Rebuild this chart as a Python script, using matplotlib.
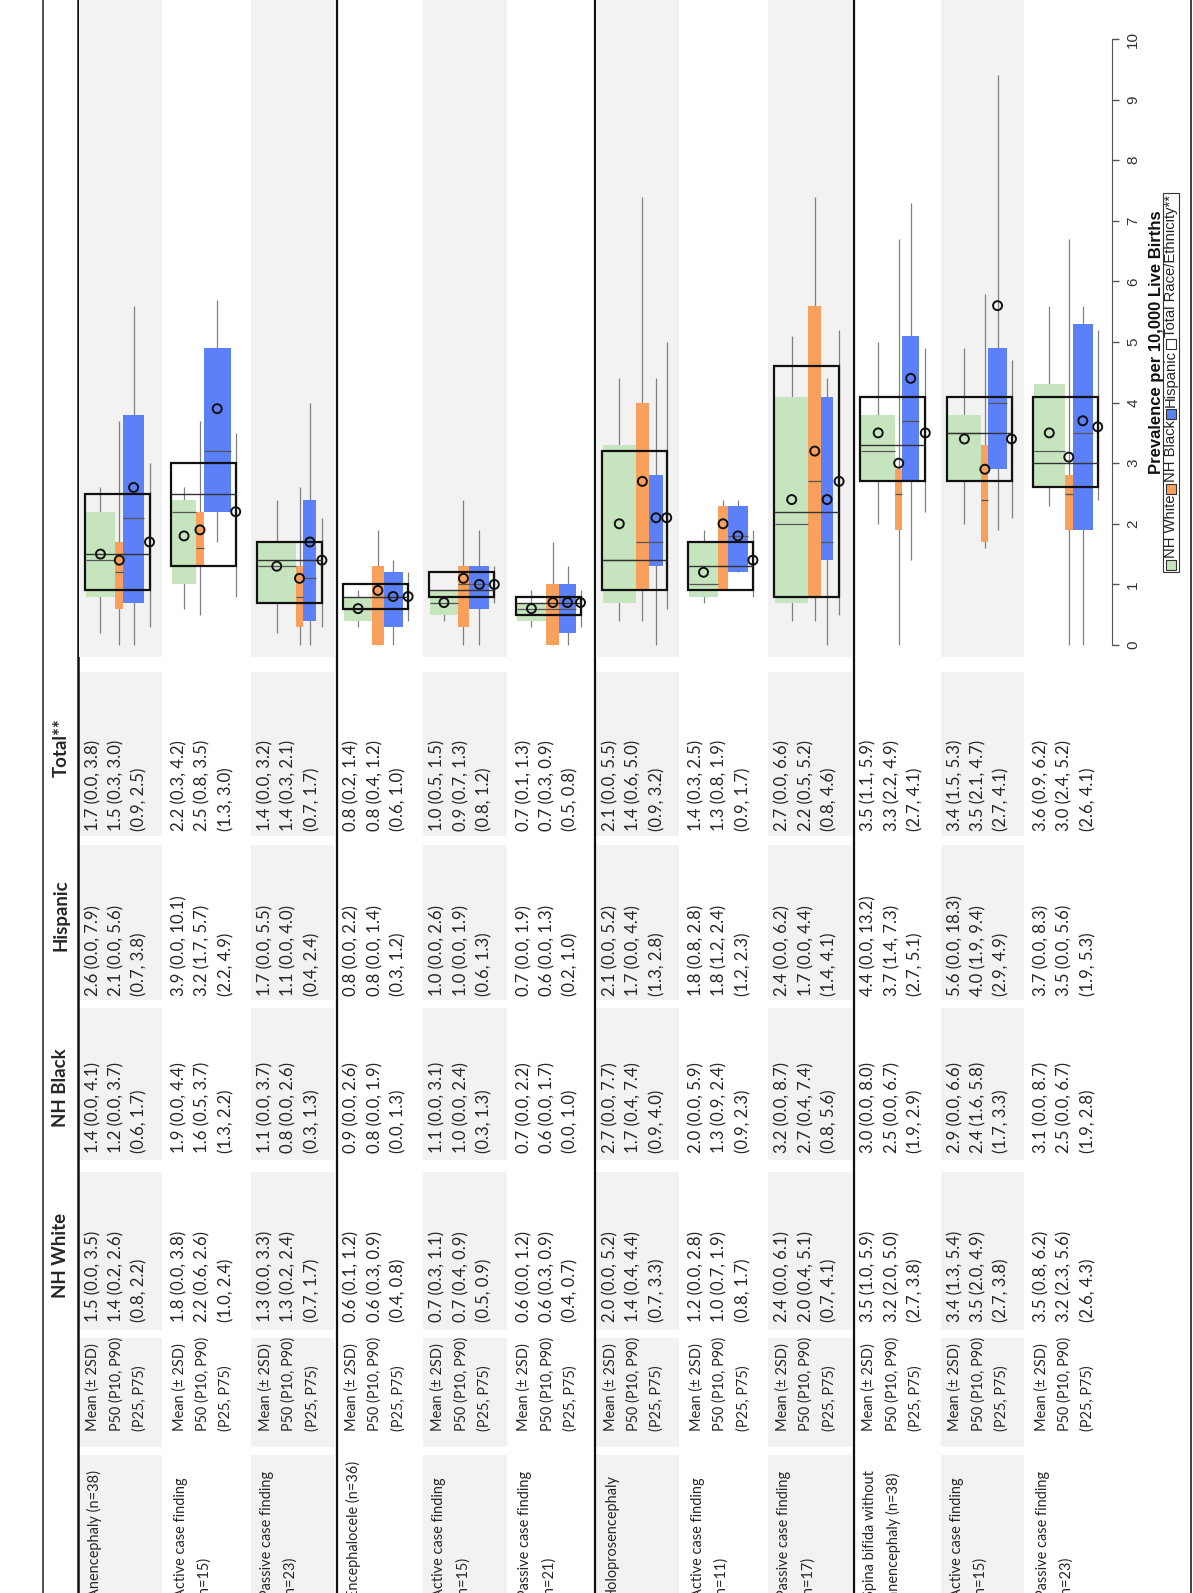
import numpy as np
import matplotlib
matplotlib.use('Agg')
import matplotlib.pyplot as plt
from matplotlib.patches import Rectangle

# Row labels (two-line labels split on the newline)
ROW_LABELS = [
    'Anencephaly (n=38)',
    'Active case finding\n(n=15)',
    'Passive case finding\n(n=23)',
    'Encephalocele (n=36)',
    'Active case finding\n(n=15)',
    'Passive case finding\n(n=21)',
    'Holoprosencephaly',
    'Active case finding\n(n=11)',
    'Passive case finding\n(n=17)',
    'Spina bifida without\nanencephaly (n=38)',
    'Active case finding\n(n=15)',
    'Passive case finding\n(n=23)',
]
STAT_NAMES = ['Mean (\u00b1 2SD)', 'P50 (P10, P90)', '(P25, P75)']
GROUP_NAMES = ['NH White', 'NH Black', 'Hispanic', 'Total**']

# mean, mean-2SD, mean+2SD, P50, P10, P90, P25, P75
NH_WHITE = [
    (1.5, 0.0, 3.5, 1.4, 0.2, 2.6, 0.8, 2.2),
    (1.8, 0.0, 3.8, 2.2, 0.6, 2.6, 1.0, 2.4),
    (1.3, 0.0, 3.3, 1.3, 0.2, 2.4, 0.7, 1.7),
    (0.6, 0.1, 1.2, 0.6, 0.3, 0.9, 0.4, 0.8),
    (0.7, 0.3, 1.1, 0.7, 0.4, 0.9, 0.5, 0.9),
    (0.6, 0.0, 1.2, 0.6, 0.3, 0.9, 0.4, 0.7),
    (2.0, 0.0, 5.2, 1.4, 0.4, 4.4, 0.7, 3.3),
    (1.2, 0.0, 2.8, 1.0, 0.7, 1.9, 0.8, 1.7),
    (2.4, 0.0, 6.1, 2.0, 0.4, 5.1, 0.7, 4.1),
    (3.5, 1.0, 5.9, 3.2, 2.0, 5.0, 2.7, 3.8),
    (3.4, 1.3, 5.4, 3.5, 2.0, 4.9, 2.7, 3.8),
    (3.5, 0.8, 6.2, 3.2, 2.3, 5.6, 2.6, 4.3),
]
NH_BLACK = [
    (1.4, 0.0, 4.1, 1.2, 0.0, 3.7, 0.6, 1.7),
    (1.9, 0.0, 4.4, 1.6, 0.5, 3.7, 1.3, 2.2),
    (1.1, 0.0, 3.7, 0.8, 0.0, 2.6, 0.3, 1.3),
    (0.9, 0.0, 2.6, 0.8, 0.0, 1.9, 0.0, 1.3),
    (1.1, 0.0, 3.1, 1.0, 0.0, 2.4, 0.3, 1.3),
    (0.7, 0.0, 2.2, 0.6, 0.0, 1.7, 0.0, 1.0),
    (2.7, 0.0, 7.7, 1.7, 0.4, 7.4, 0.9, 4.0),
    (2.0, 0.0, 5.9, 1.3, 0.9, 2.4, 0.9, 2.3),
    (3.2, 0.0, 8.7, 2.7, 0.4, 7.4, 0.8, 5.6),
    (3.0, 0.0, 8.0, 2.5, 0.0, 6.7, 1.9, 2.9),
    (2.9, 0.0, 6.6, 2.4, 1.6, 5.8, 1.7, 3.3),
    (3.1, 0.0, 8.7, 2.5, 0.0, 6.7, 1.9, 2.8),
]
HISPANIC = [
    (2.6, 0.0, 7.9, 2.1, 0.0, 5.6, 0.7, 3.8),
    (3.9, 0.0, 10.1, 3.2, 1.7, 5.7, 2.2, 4.9),
    (1.7, 0.0, 5.5, 1.1, 0.0, 4.0, 0.4, 2.4),
    (0.8, 0.0, 2.2, 0.8, 0.0, 1.4, 0.3, 1.2),
    (1.0, 0.0, 2.6, 1.0, 0.0, 1.9, 0.6, 1.3),
    (0.7, 0.0, 1.9, 0.6, 0.0, 1.3, 0.2, 1.0),
    (2.1, 0.0, 5.2, 1.7, 0.0, 4.4, 1.3, 2.8),
    (1.8, 0.8, 2.8, 1.8, 1.2, 2.4, 1.2, 2.3),
    (2.4, 0.0, 6.2, 1.7, 0.0, 4.4, 1.4, 4.1),
    (4.4, 0.0, 13.2, 3.7, 1.4, 7.3, 2.7, 5.1),
    (5.6, 0.0, 18.3, 4.0, 1.9, 9.4, 2.9, 4.9),
    (3.7, 0.0, 8.3, 3.5, 0.0, 5.6, 1.9, 5.3),
]
TOTAL = [
    (1.7, 0.0, 3.8, 1.5, 0.3, 3.0, 0.9, 2.5),
    (2.2, 0.3, 4.2, 2.5, 0.8, 3.5, 1.3, 3.0),
    (1.4, 0.0, 3.2, 1.4, 0.3, 2.1, 0.7, 1.7),
    (0.8, 0.2, 1.4, 0.8, 0.4, 1.2, 0.6, 1.0),
    (1.0, 0.5, 1.5, 0.9, 0.7, 1.3, 0.8, 1.2),
    (0.7, 0.1, 1.3, 0.7, 0.3, 0.9, 0.5, 0.8),
    (2.1, 0.0, 5.5, 1.4, 0.6, 5.0, 0.9, 3.2),
    (1.4, 0.3, 2.5, 1.3, 0.8, 1.9, 0.9, 1.7),
    (2.7, 0.0, 6.6, 2.2, 0.5, 5.2, 0.8, 4.6),
    (3.5, 1.1, 5.9, 3.3, 2.2, 4.9, 2.7, 4.1),
    (3.4, 1.5, 5.3, 3.5, 2.1, 4.7, 2.7, 4.1),
    (3.6, 0.9, 6.2, 3.0, 2.4, 5.2, 2.6, 4.1),
]

# share of total births per group, used as box widths
WHITE_SHARE = [.46, .38, .58, .43, .42, .46, .51, .45, .51, .52, .52, .48]
BLACK_SHARE = [.12, .11, .12, .18, .18, .20, .20, .15, .20, .11, .11, .12]
HISP_SHARE = [.32, .42, .20, .29, .31, .25, .22, .31, .18, .26, .28, .31]

COLORS = ['#c6e5be', '#f9a15c', '#5b80f7']
SHADE = '#f2f2f2'
TEXT_COLOR = '#262626'
TABLE_FONT = 'Lato'
AXIS_FONT = 'Liberation Sans'

# layout in pixels
W, H = 1193, 1593
X0 = 78.0
ROW_W = 86.2
N = len(ROW_LABELS)
PLOT_BOTTOM = 657.0
Y_ZERO = 645.0
UNIT = 60.6
BOX_OFF = 6.5 / ROW_W
TOT_W = 65.0 / ROW_W

fig = plt.figure(figsize=(W / 100, H / 100), dpi=100)
fig.patch.set_facecolor('white')

canvas = fig.add_axes([0, 0, 1, 1], zorder=0)
canvas.set_xlim(0, W)
canvas.set_ylim(H, 0)
canvas.axis('off')
fig.canvas.draw()
renderer = fig.canvas.get_renderer()


def text_width(s, size, weight='normal', family=TABLE_FONT):
    t = canvas.text(0, 0, s, fontsize=size, fontweight=weight, family=family)
    fig.canvas.draw()
    w = t.get_window_extent(renderer).width
    t.remove()
    return w


def fit_size(s, target_px, weight='normal'):
    return 10.0 * target_px / text_width(s, 10.0, weight)


text_width('warm up', 10.0)
STAT_FS = fit_size('P50 (P10, P90)', 95)
VALUE_FS = min(fit_size('1.4 (0.0, 4.1)', 102), STAT_FS * 1.15)
HEAD_FS = fit_size('NH Black', 79, 'bold')

# ---- table part ----
CELLS = [(672, 836), (845, 1000), (1008, 1160), (1172, 1330), (1338, 1447), (1455, H + 5)]
VALUE_START = [1322, 1153, 996, 831]
STAT_START = 1431
LABEL_START = 1477 + text_width('Active case finding', STAT_FS)
LINE_DX = 23.4


def rot_text(x, y, s, size, **kw):
    canvas.text(x, y, s, rotation=90, rotation_mode='anchor', ha='left', va='center',
                fontsize=size, family=TABLE_FONT, color=TEXT_COLOR, **kw)


for i in range(N):
    rx = X0 + i * ROW_W
    if i % 2 == 0:
        for top, bot in CELLS:
            canvas.add_patch(Rectangle((rx + 0.5, top), 83.5, bot - top,
                                       facecolor=SHADE, edgecolor='none', zorder=0))
    base = rx + 15
    for j, line in enumerate(ROW_LABELS[i].split('\n')):
        rot_text(base + 1.5 + j * LINE_DX, LABEL_START, line, STAT_FS)
    for j, s in enumerate(STAT_NAMES):
        rot_text(base + j * LINE_DX, STAT_START, s, STAT_FS)
    for g, rows in enumerate([NH_WHITE, NH_BLACK, HISPANIC, TOTAL]):
        m, slo, shi, p50, p10, p90, p25, p75 = rows[i]
        lines = ['{:.1f} ({:.1f}, {:.1f})'.format(m, slo, shi),
                 '{:.1f} ({:.1f}, {:.1f})'.format(p50, p10, p90),
                 '({:.1f}, {:.1f})'.format(p25, p75)]
        for j, s in enumerate(lines):
            rot_text(base + j * LINE_DX, VALUE_START[g], s, VALUE_FS)

# column headers
for name, yc in zip(GROUP_NAMES, [1255, 1088, 915, 748]):
    canvas.text(61, yc, name, rotation=90, ha='center', va='center',
                fontsize=HEAD_FS, fontweight='bold', family=TABLE_FONT, color=TEXT_COLOR)

# rules
canvas.axvline(43, color='#333333', lw=1.2, zorder=5)
canvas.axvline(X0 - 0.5, color='#111111', lw=1.8, zorder=5)
for k in (3, 6, 9):
    canvas.axvline(X0 + k * ROW_W, color='#111111', lw=1.6, zorder=5)
canvas.axvline(W - 2, color='#333333', lw=1.3, zorder=5)

# ---- box plot part ----
ax = fig.add_axes([X0 / W, 1 - PLOT_BOTTOM / H, N * ROW_W / W, PLOT_BOTTOM / H], zorder=1)
ax.set_facecolor('none')
ax.set_xlim(0, N)
ax.set_ylim(-(PLOT_BOTTOM - Y_ZERO) / UNIT, Y_ZERO / UNIT)

for i in range(N):
    if i % 2 == 0:
        ax.axvspan(i + 0.5 / ROW_W, i + 84 / ROW_W, color=SHADE, lw=0, zorder=0)
    left = i + BOX_OFF
    x = left + 1.0 / ROW_W
    for rows, share, color in zip([NH_WHITE, NH_BLACK, HISPANIC],
                                  [WHITE_SHARE, BLACK_SHARE, HISP_SHARE], COLORS):
        m, slo, shi, p50, p10, p90, p25, p75 = rows[i]
        w = share[i] * TOT_W
        cx = x + w / 2
        ax.vlines(cx, p10, p90, color='#808080', lw=0.9, zorder=1)
        ax.bar(x, p75 - p25, width=w, bottom=p25, align='edge', color=color, lw=0, zorder=2)
        ax.hlines(p50, x, x + w, color='#555555', lw=0.9, zorder=3)
        ax.scatter([cx], [m], s=42, facecolors='none', edgecolors='#111111', linewidths=1.4, zorder=6)
        x += w
    m, slo, shi, p50, p10, p90, p25, p75 = TOTAL[i]
    tx = left + TOT_W
    ax.vlines(tx, p10, p90, color='#808080', lw=0.9, zorder=1)
    ax.bar(left, p75 - p25, width=TOT_W, bottom=p25, align='edge', fill=False,
           edgecolor='#111111', lw=1.6, zorder=4)
    ax.hlines(p50, left, left + TOT_W, color='#333333', lw=1.0, zorder=4)
    ax.scatter([tx], [m], s=42, facecolors='none', edgecolors='#111111', linewidths=1.4, zorder=6)

for side in ['left', 'top', 'bottom']:
    ax.spines[side].set_visible(False)
ax.spines['right'].set_bounds(0, 10)
ax.spines['right'].set_color('#555555')
ax.set_xticks([])
ax.set_yticks(range(11))
ax.yaxis.tick_right()
ax.tick_params(axis='y', direction='out', length=5, width=1, colors='#555555',
               labelcolor='#333333', labelsize=11, labelrotation=90, pad=5)
for lab in ax.get_yticklabels():
    lab.set_family(AXIS_FONT)
    lab.set_verticalalignment('center')

ax.text((1157 - X0) / (N * ROW_W), 5, 'Prevalence per 10,000 Live Births',
        transform=ax.get_yaxis_transform(), rotation=90, ha='center', va='center',
        fontsize=12, fontweight='bold', family=AXIS_FONT, color='#111111')

# legend drawn as a rotated strip
LEG_X = 1171
LEG_ITEMS = [('NH White', COLORS[0]), ('NH Black', COLORS[1]),
             ('Hispanic', COLORS[2]), ('Total Race/Ethnicity**', 'white')]
y = 570.0
y_start = y
sq = 10.0
for name, color in LEG_ITEMS:
    canvas.add_patch(Rectangle((LEG_X - sq / 2, y - sq), sq, sq, facecolor=color,
                               edgecolor='#333333', lw=0.8, zorder=6))
    y -= sq + 1.5
    t = canvas.text(LEG_X, y, name, rotation=90, rotation_mode='anchor',
                    ha='left', va='center', fontsize=10.6, family=AXIS_FONT,
                    color='#222222', zorder=6)
    fig.canvas.draw()
    bb = t.get_window_extent(renderer)
    y -= bb.height + 1.5
canvas.add_patch(Rectangle((LEG_X - 8, y - 1), 16, y_start - y + 3, facecolor='none',
                           edgecolor='#333333', lw=0.8, zorder=6))

fig.savefig('out.png', dpi=100, facecolor='white')
